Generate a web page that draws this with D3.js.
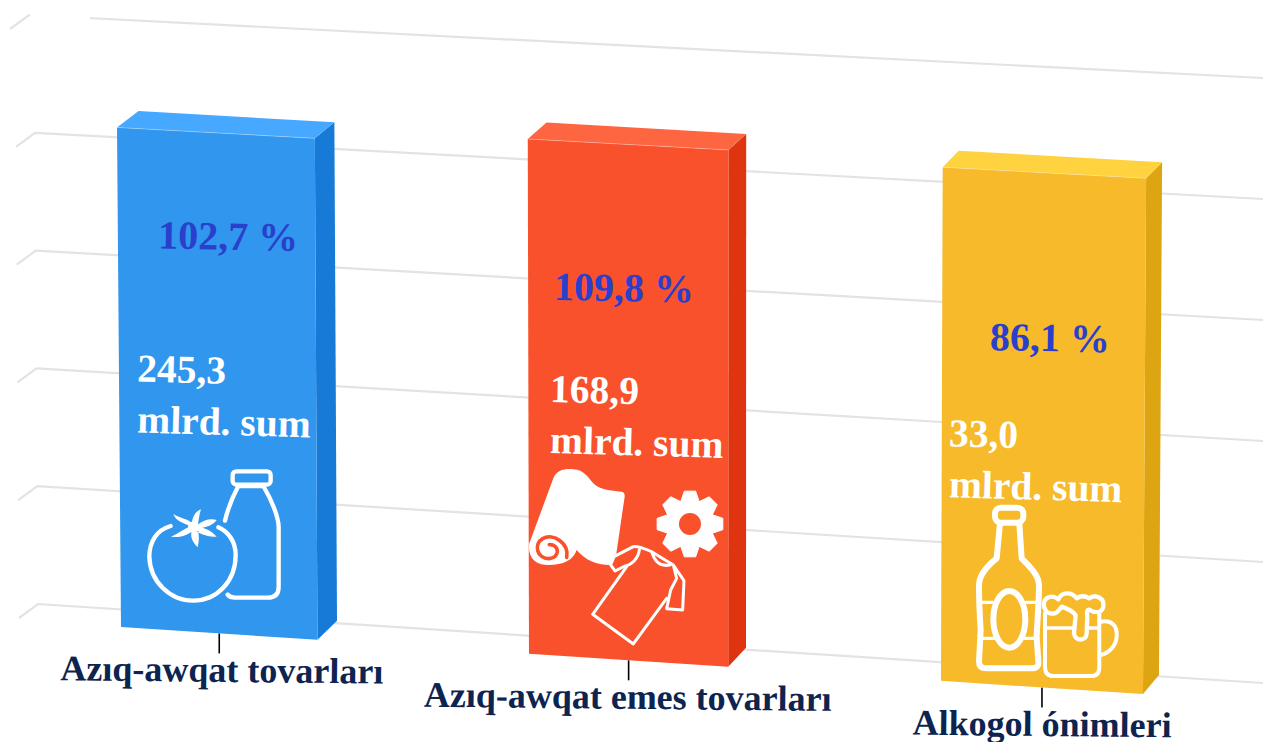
<!DOCTYPE html>
<html>
<head>
<meta charset="utf-8">
<script src="https://cdn.jsdelivr.net/npm/d3@7"></script>
<style>
  html, body { margin: 0; padding: 0; background: #fff; overflow: hidden; }
  svg { display: block; }
  text { font-family: "Liberation Serif", serif; font-weight: bold; }
</style>
</head>
<body>
<div id="chart"></div>
<script>
var categories = ['Azıq-awqat tovarları', 'Azıq-awqat emes tovarları', 'Alkogol ónimleri'];
var barValues = [212, 218.5, 218];
var percentLabels = ['102,7 %', '109,8 %', '86,1 %'];
var amountLabels = ['245,3', '168,9', '33,0'];
var amountUnit = 'mlrd. sum';
var gridTicks = [0, 50, 100, 150, 200, 250];

var width = 1263,
    height = 742;

var faceColors = [
  {front: '#3096ee', top: '#46a9ff', side: '#167ad6'},
  {front: '#f9512b', top: '#fe6541', side: '#de3510'},
  {front: '#f7ba2a', top: '#ffd23f', side: '#dea512'}
];

// text offsets from each bar's front top-left corner
var textOffsets = [
  {pctX: 41, pctY: 121, amtX: 20, amtY: 254, labelX: 2.5},
  {pctX: 26, pctY: 161, amtX: 22, amtY: 263, labelX: -1},
  {pctX: 47, pctY: 183, amtX: 6, amtY: 279, labelX: 0}
];

var xScale = d3.scaleBand()
  .domain(categories)
  .range([121, 1139])
  .paddingInner(0.517)
  .paddingOuter(0);

var yLeft = d3.scaleLinear().domain([0, 250]).range([604, 15]);
var yRight = d3.scaleLinear().domain([0, 250]).range([683, 78]);
var xLeft = d3.scaleLinear().domain([0, 200, 250]).range([38, 35, 29]);

// the floor of the bars runs downhill to the right
var floorY = d3.scaleLinear().domain([0, width]).range([619, 702]);
var depthLeft = d3.scaleLinear().domain([121, 941]).range([21.5, 16]);
var depthRight = d3.scaleLinear().domain([121, 941]).range([19.5, 16]);
// bars nearer the right are a little wider, the middle one sits a bit left
var barWidth = d3.scaleLinear().domain([121, 941]).range([196.5, 202]);
var barShift = d3.scaleLinear().domain([121, 531, 941]).range([0, -2, 0]);
var barHeight = function (v) { return yLeft(0) - yLeft(v); };
var lean = function (x, h) { return (x - 700) * h * 1.38e-5; };
var topSlope = 0.055;

var svg = d3.select('#chart')
  .append('svg')
  .attr('width', width)
  .attr('height', height);

// grid
var gridLine = d3.line();
var grid = svg.append('g').attr('class', 'grid');

grid.selectAll('path')
  .data(gridTicks)
  .enter()
  .append('path')
  .attr('d', function (d) {
    var x0 = xLeft(d), y0 = yLeft(d);
    return gridLine([[x0 - 19, y0 + 14], [x0, y0], [width, yRight(d)]]);
  })
  .attr('fill', 'none')
  .attr('stroke', '#e3e3e3')
  .attr('stroke-width', 2.2);

// top line fades out on its left side
grid.append('rect')
  .attr('x', 30).attr('y', 8)
  .attr('width', 60).attr('height', 12)
  .attr('fill', '#fff');

// axis ticks under the bars, each moved down to the sloped floor
var xAxis = d3.axisBottom(xScale).tickSize(20).tickSizeOuter(0);

var axisG = svg.append('g').attr('class', 'x axis').call(xAxis);
axisG.select('.domain').remove();
axisG.selectAll('.tick')
  .attr('transform', function (d) {
    var x0 = xScale(d),
        cx = x0 + barShift(x0) + barWidth(x0) / 2;
    return 'translate(' + cx + ',' + floorY(cx) + ')';
  });
axisG.selectAll('.tick line').attr('stroke', '#000').attr('stroke-width', 1.6);
axisG.selectAll('.tick text')
  .attr('x', 0)
  .attr('y', 0)
  .attr('dy', 0)
  .attr('transform', function (d, i) {
    return 'translate(' + textOffsets[i].labelX + ',48.5) rotate(0.6)';
  })
  .attr('font-size', 36)
  .attr('fill', '#0d2450')
  .style('font-family', '"Liberation Serif", serif');

// bars
var points = function (arr) { return arr.map(function (p) { return p.join(','); }).join(' '); };

function barText(g, x, y, size, color, angle, label) {
  g.append('text')
    .attr('transform', 'translate(' + x + ',' + y + ') rotate(' + angle + ')')
    .attr('font-size', size)
    .attr('fill', color)
    .text(label);
}

var bars = svg.selectAll('g.bar')
  .data(categories)
  .enter()
  .append('g')
  .attr('class', 'bar')
  .each(function (d, i) {
    var g = d3.select(this),
        x0 = xScale(d) + barShift(xScale(d)),
        x1 = x0 + barWidth(xScale(d)),
        h = barHeight(barValues[i]),
        bl = [x0, floorY(x0)],
        br = [x1, floorY(x1)],
        tl = [x0 + lean(x0, h), bl[1] - h],
        tr = [x1 + lean(x1, h), bl[1] - h + (x1 - x0) * topSlope],
        tlb = [tl[0] + depthLeft(x0), tl[1] - 16.5],
        trb = [tr[0] + depthRight(x0), tr[1] - 16],
        brb = [br[0] + depthRight(x0), br[1] - 19];

    g.append('polygon').attr('points', points([tr, trb, brb, br])).attr('fill', faceColors[i].side);
    g.append('polygon').attr('points', points([tl, tlb, trb, tr])).attr('fill', faceColors[i].top);
    g.append('polygon').attr('points', points([tl, tr, br, bl])).attr('fill', faceColors[i].front);

    // thin pale edge where the top meets the front
    g.append('line')
      .attr('x1', tl[0]).attr('y1', tl[1])
      .attr('x2', tr[0]).attr('y2', tr[1])
      .attr('stroke', '#fff')
      .attr('stroke-opacity', 0.3)
      .attr('stroke-width', 1);

    var off = textOffsets[i];
    barText(g, tl[0] + off.pctX, tl[1] + off.pctY, 40, '#2a3fcb', 1, percentLabels[i]);
    barText(g, tl[0] + off.amtX, tl[1] + off.amtY, 39.5, '#fff', 1.4, amountLabels[i]);
    barText(g, tl[0] + off.amtX, tl[1] + off.amtY + 51, 39.5, '#fff', 1.6, amountUnit);
  });

// icons, sketched at 3x and scaled down
function icon(x, y) {
  return svg.append('g')
    .attr('transform', 'translate(' + x + ',' + y + ') scale(0.3333)')
    .attr('fill', 'none')
    .attr('stroke', '#fff')
    .attr('stroke-linecap', 'round')
    .attr('stroke-linejoin', 'round');
}

// tomato and bottle
var food = icon(100, 440).attr('stroke-width', 13);
food.append('rect').attr('x', 398).attr('y', 94).attr('width', 114).attr('height', 40).attr('rx', 11);
food.append('path').attr('d', 'M375 242C385 200 398 170 415 138L490 138C515 180 535 230 536 260L536 440Q536 473 503 473L405 473Q390 473 383 464');
food.append('path').attr('d', 'M212 258C170 270 148 305 148 350C150 425 210 482 280 482C350 482 407 425 407 345C407 305 385 275 355 262');
food.append('path')
  .attr('fill', '#fff')
  .attr('stroke', 'none')
  .attr('d', 'M275 252C278 230 285 215 303 208C298 225 296 240 294 252Z' +
    'M272 258C255 252 225 242 220 222C240 235 260 235 278 250Z' +
    'M292 255C310 240 330 235 350 240C340 255 320 262 298 265Z' +
    'M296 262C320 264 335 275 350 290C325 290 305 285 288 272Z' +
    'M280 262C270 280 270 300 293 322C298 300 298 285 292 262Z' +
    'M272 258C255 265 235 280 213 290C240 295 265 285 282 270Z');
food.append('circle').attr('cx', 281).attr('cy', 261).attr('r', 17).attr('fill', '#fff').attr('stroke', 'none');

// cloth roll, gear and shirt
var goods = icon(510, 450).attr('stroke-width', 9);
goods.append('path')
  .attr('fill', '#fff')
  .attr('stroke', 'none')
  .attr('d', 'M130 85C140 60 165 55 190 58C225 60 235 85 250 100C270 120 300 122 335 125Q345 127 344 140L318 318L300 345C260 345 225 330 200 300C190 330 160 345 115 345C75 345 52 320 58 280Z');
goods.append('path')
  .attr('stroke', '#f9512b')
  .attr('stroke-width', 11)
  .attr('d', 'M170 322C178 280 130 248 98 266C70 282 80 326 118 326C150 322 150 284 118 284');

var gearPts = [];
d3.range(8).forEach(function (k) {
  var a = k * Math.PI / 4 - Math.PI / 2;
  [[-0.40, 72], [-0.17, 100], [0.17, 100], [0.40, 72]].forEach(function (p) {
    gearPts.push([540 + p[1] * Math.cos(a + p[0]), 222 + p[1] * Math.sin(a + p[0])]);
  });
});
goods.append('path')
  .attr('d', d3.line().curve(d3.curveLinearClosed)(gearPts))
  .attr('fill', '#fff')
  .attr('stroke', '#fff')
  .attr('stroke-width', 3);
goods.append('circle').attr('cx', 540).attr('cy', 222).attr('r', 33).attr('fill', '#f9512b').attr('stroke', 'none');

goods.append('path').attr('d', 'M350 350L248 493L370 582L470 445');
goods.append('path')
  .attr('fill', '#f9512b')
  .attr('d', 'M312 320L370 290Q385 288 425 305L490 345L522 392L518 480L470 476L482 420L500 385L490 345L425 305C435 340 455 350 480 345M388 300C385 325 365 345 345 348L315 363L302 345L312 320');

// beer bottle and mug
var drinks = icon(930, 490).attr('stroke-width', 18);
drinks.append('rect').attr('x', 195).attr('y', 53).attr('width', 85).attr('height', 45).attr('rx', 18);
drinks.append('path').attr('d', 'M210 100L200 205C175 225 147 255 147 285C147 340 150 390 152 420L147 515Q147 535 170 535L305 535Q328 535 325 515L320 440C322 390 327 340 327 285C327 255 295 225 275 205L268 100');
drinks.append('ellipse').attr('cx', 238).attr('cy', 388).attr('rx', 48).attr('ry', 85);
drinks.append('path').attr('stroke-width', 10).attr('d', 'M155 337L188 337M288 337L322 337M155 445L192 445M285 445L322 445');
drinks.append('path').attr('stroke-width', 12).attr('d', 'M345 370L345 530Q345 558 370 558L485 558Q508 558 508 530L508 370');
drinks.append('path').attr('stroke-width', 10).attr('d', 'M345 414L436 414M472 414L508 414');
drinks.append('path').attr('stroke-width', 13)
  .attr('fill', '#f7ba2a')
  .attr('d', 'M370 370C340 375 335 335 350 325C365 315 375 320 385 328C395 305 425 305 440 325C455 315 470 320 478 325C495 310 525 325 520 350C515 370 495 370 480 360C470 355 470 370 472 380L470 430C470 455 435 455 432 430L437 375C425 360 410 355 395 350C385 365 375 372 370 370Z');
drinks.append('path').attr('stroke-width', 12).attr('d', 'M512 395C545 390 563 405 560 440C558 470 535 490 512 495');
</script>
</body>
</html>
